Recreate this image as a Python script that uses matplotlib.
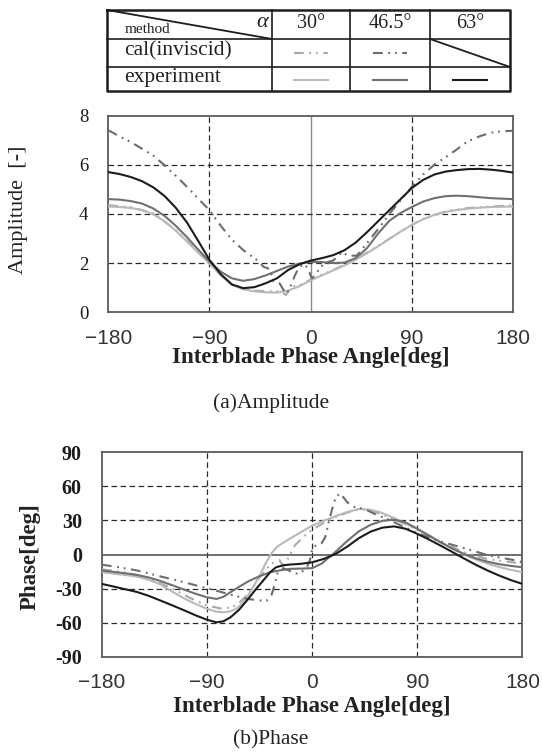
import matplotlib
matplotlib.use("Agg")
import matplotlib.pyplot as plt

plt.rcParams['lines.scale_dashes'] = False
SERIF = 'Liberation Serif'
SANS = 'Liberation Sans'

# ---------------- data ----------------
alphas = ["30°", "46.5°", "63°"]
methods = ["cal(inviscid)", "experiment"]

# Amplitude, experiment (read every 10 deg)
amp_exp_x = [-180, -170, -160, -150, -140, -130, -120, -110, -100, -90, -80, -70, -60, -50, -40, -30,
             -20, -10, 0, 10, 20, 30, 40, 50, 60, 70, 80, 90, 100, 110, 120, 130, 140, 150, 160, 170, 180]
amp_exp_30 = [4.30, 4.28, 4.24, 4.16, 3.98, 3.70, 3.32, 2.88, 2.42, 1.99, 1.50, 1.12, 0.93, 0.85, 0.81,
              0.80, 0.88, 1.06, 1.30, 1.50, 1.70, 1.90, 2.13, 2.40, 2.68, 2.98, 3.28, 3.55, 3.78, 3.96,
              4.08, 4.16, 4.21, 4.25, 4.28, 4.29, 4.30]
amp_exp_465 = [4.60, 4.58, 4.52, 4.42, 4.22, 3.92, 3.52, 3.05, 2.55, 2.06, 1.65, 1.38, 1.28, 1.35, 1.50,
               1.68, 1.86, 1.98, 2.05, 2.04, 2.00, 2.02, 2.20, 2.60, 3.20, 3.72, 4.04, 4.28, 4.50, 4.64,
               4.72, 4.74, 4.72, 4.68, 4.64, 4.62, 4.60]
amp_exp_63 = [5.70, 5.62, 5.50, 5.33, 5.08, 4.73, 4.25, 3.65, 2.90, 2.13, 1.55, 1.13, 0.98, 1.02, 1.18,
              1.38, 1.72, 1.95, 2.10, 2.20, 2.32, 2.52, 2.83, 3.25, 3.70, 4.15, 4.60, 5.05, 5.38, 5.60,
              5.72, 5.78, 5.82, 5.83, 5.80, 5.75, 5.68]

# Amplitude, calculation (inviscid)
amp_cal_30_x = [-180, -160, -140, -120, -100, -90, -80, -70, -60, -50, -35, -26, -22, -19, -15, -10, 0,
                20, 40, 60, 80, 90, 100, 120, 140, 160, 180]
amp_cal_30 = [4.35, 4.28, 4.02, 3.35, 2.45, 2.00, 1.52, 1.12, 0.94, 0.88, 0.85, 0.85, 0.70, 0.95, 1.05,
              1.10, 1.33, 1.72, 2.15, 2.70, 3.28, 3.55, 3.80, 4.10, 4.24, 4.30, 4.35]
amp_cal_465_x = [-180, -170, -160, -150, -140, -130, -120, -110, -100, -90, -80, -70, -60, -50, -46, -42,
                 -36, -34.6, -33, -28, -24, -22, -20, -18, -14, -10, -5, -2, 1, 4, 7, 12, 20, 28, 33,
                 41, 50, 62, 70, 80, 90, 100, 110, 120, 130, 139, 150, 160, 170, 180]
amp_cal_465 = [7.40, 7.15, 6.92, 6.65, 6.37, 5.98, 5.55, 5.10, 4.62, 4.15, 3.52, 2.95, 2.53, 2.20, 2.06,
               1.85, 1.75, 1.50, 1.25, 1.20, 0.90, 0.75, 0.85, 1.05, 1.50, 1.85, 1.95, 1.72, 1.38, 1.50,
               1.72, 2.00, 2.10, 2.45, 2.30, 2.30, 2.80, 3.50, 4.00, 4.55, 5.10, 5.60, 6.00, 6.30, 6.62,
               6.93, 7.15, 7.30, 7.36, 7.38]

# Phase, experiment
ph_exp_30_x = [-180, -170, -160, -150, -140, -130, -120, -110, -100, -90, -82, -76, -70, -65, -60, -55,
               -50, -45, -40, -35, -30, -20, -10, 0, 10, 20, 30, 40, 50, 58, 66, 75, 90, 100, 110, 120,
               130, 140, 150, 160, 170, 180]
ph_exp_30 = [-15.6, -16.8, -18.0, -19.5, -22.2, -26.3, -32.6, -38.5, -43.5, -47.9, -50.3, -50.9, -50.0,
             -47.9, -43.0, -36.0, -27.5, -18.5, -8.0, 1.0, 7.0, 13.5, 19.5, 25.6, 29.8, 33.8, 37.5, 40.2,
             39.5, 37.3, 34.0, 30.0, 22.6, 17.0, 10.8, 5.0, 0.0, -4.3, -8.0, -11.0, -13.5, -15.6]
ph_exp_465_x = [-180, -170, -160, -150, -140, -130, -120, -110, -100, -90, -82, -76, -70, -62, -54, -45,
                -36, -28, -19, -10, 0, 8, 18, 30, 40, 50, 60, 70, 80, 90, 100, 110, 120, 130, 140, 150,
                160, 170, 180]
ph_exp_465 = [-14.1, -15.3, -16.5, -18.0, -20.2, -23.3, -27.0, -30.8, -34.5, -37.7, -39.1, -37.2, -33.2,
              -28.0, -23.2, -19.0, -15.6, -14.0, -12.6, -12.4, -12.0, -8.0, 0.6, 12.0, 20.5, 26.2, 29.7,
              30.7, 28.3, 22.6, 16.6, 10.7, 5.3, 0.5, -3.3, -6.3, -8.5, -10.0, -11.2]
ph_exp_63_x = [-180, -170, -160, -150, -140, -130, -120, -110, -100, -90, -82, -76, -70, -63, -56, -49,
               -42, -36, -31, -25, -19, -10, 0, 10, 20, 30, 40, 50, 60, 70, 80, 90, 100, 110, 120, 130,
               140, 150, 160, 170, 180]
ph_exp_63 = [-25.9, -28.2, -30.6, -33.0, -36.4, -40.5, -44.7, -49.0, -53.5, -57.5, -59.7, -58.8, -55.3,
             -49.0, -40.6, -31.5, -22.9, -15.5, -11.2, -9.5, -8.8, -8.2, -6.8, -3.8, 0.5, 7.0, 14.5, 20.2,
             23.7, 24.8, 22.7, 18.2, 13.2, 7.8, 2.2, -3.5, -9.0, -14.0, -18.5, -22.5, -25.9]

# Phase, calculation (inviscid)
ph_cal_30_x = [-180, -165, -150, -135, -120, -105, -90, -76, -65, -55, -45, -35, -28, -25, -22, -15, -5,
               0, 10, 20, 30, 40, 50, 60, 75, 90, 110, 130, 150, 165, 180]
ph_cal_30 = [-13.0, -15.0, -18.0, -23.0, -30.0, -38.0, -45.0, -48.0, -45.0, -35.0, -20.0, -8.0, -5.0,
             -10.0, -6.0, 8.0, 18.0, 22.0, 28.0, 33.0, 37.0, 40.0, 39.0, 35.0, 29.0, 22.0, 11.0, 2.0,
             -4.0, -6.0, -8.0]
ph_cal_465_x = [-180, -169, -150, -133, -115, -99, -85, -70, -56, -45, -39, -35, -32, -30, -25, -20, -15,
                -10, -5, -2, 0, 4, 8, 11, 14, 17, 20, 23.6, 27, 30, 36, 45, 55, 65, 75, 90, 105, 127,
                152, 175, 180]
ph_cal_465 = [-9.0, -10.6, -14.0, -18.5, -23.0, -27.3, -31.0, -35.3, -39.0, -40.5, -40.6, -36.0, -26.0,
              -17.0, -12.0, -14.0, -17.0, -16.0, -12.0, -5.0, 5.0, 9.0, 10.0, 15.0, 28.0, 40.0, 50.0,
              54.0, 50.0, 46.0, 42.0, 40.0, 35.0, 31.0, 26.0, 19.0, 13.0, 6.5, -1.0, -5.3, -7.0]

amp_yticks = [0, 2, 4, 6, 8]
ph_yticks = [-90, -60, -30, 0, 30, 60, 90]
x_ticks = [-180, -90, 0, 90, 180]
x_ticklabels = ["\u2212180", "\u221290", "0", "90", "180"]

# ---------------- styles ----------------
col = {"30°": "#b9b9b9", "46.5°": "#707070", "63°": "#1c1c1c"}
cal_col = {"30°": "#a9a9a9", "46.5°": "#6c6c6c"}
cal_ls = (0, (7, 4, 1.3, 3.5, 1.3, 4))
LW = 1.5

fig = plt.figure(figsize=(5.42, 7.53), dpi=100)
ax1 = fig.add_axes([0.1998, 0.5853, 0.7467, 0.2613])
ax2 = fig.add_axes([0.1882, 0.1279, 0.7758, 0.2713])


def style_axes(ax, yticks, ylim, zero_vertical, zero_horizontal, ybold, ysize):
    ax.set_xlim(-180, 180)
    ax.set_ylim(*ylim)
    for s in ax.spines.values():
        s.set_color('#5a5a5a')
        s.set_linewidth(1.3)
    for t in x_ticks[1:-1]:
        if t == 0 and zero_vertical:
            ax.axvline(t, color='#8a8a8a', lw=1.0, zorder=1)
        else:
            ax.axvline(t, color='#2a2a2a', lw=0.9, ls=(0, (4, 2.5)), zorder=1)
    for t in yticks[1:-1]:
        if t == 0 and zero_horizontal:
            ax.axhline(t, color='#555555', lw=1.2, zorder=1)
        else:
            ax.axhline(t, color='#2a2a2a', lw=0.9, ls=(0, (4, 2.5)), zorder=1)
    ax.set_xticks(x_ticks)
    ax.set_xticklabels(x_ticklabels, fontfamily=SANS, fontsize=15, color='#333333')
    ax.set_yticks(yticks)
    ax.set_yticklabels([str(v) for v in yticks], fontfamily=SERIF, fontsize=ysize,
                       fontweight='bold' if ybold else 'normal', color='#1a1a1a')
    ax.tick_params(axis='both', length=0)
    ax.tick_params(axis='x', pad=12)
    ax.tick_params(axis='y', pad=14.5)


style_axes(ax1, amp_yticks, (0, 8), True, False, False, 13.5)
style_axes(ax2, ph_yticks, (-90, 90), False, True, True, 14.5)

# amplitude curves
ax1.plot(amp_cal_30_x, amp_cal_30, color=cal_col["30°"], lw=LW, ls=cal_ls, zorder=3)
ax1.plot(amp_exp_x, amp_exp_30, color=col["30°"], lw=LW, zorder=3)
ax1.plot(amp_exp_x, amp_exp_465, color=col["46.5°"], lw=LW, zorder=3)
ax1.plot(amp_cal_465_x, amp_cal_465, color=cal_col["46.5°"], lw=LW, ls=cal_ls, zorder=3)
ax1.plot(amp_exp_x, amp_exp_63, color=col["63°"], lw=LW, zorder=4)

# phase curves
ax2.plot(ph_cal_30_x, ph_cal_30, color=cal_col["30°"], lw=LW, ls=cal_ls, zorder=3)
ax2.plot(ph_exp_30_x, ph_exp_30, color=col["30°"], lw=LW, zorder=3)
ax2.plot(ph_exp_465_x, ph_exp_465, color=col["46.5°"], lw=LW, zorder=3)
ax2.plot(ph_cal_465_x, ph_cal_465, color=cal_col["46.5°"], lw=LW, ls=cal_ls, zorder=3)
ax2.plot(ph_exp_63_x, ph_exp_63, color=col["63°"], lw=LW, zorder=4)

# labels
ax1.set_xlabel("Interblade Phase Angle[deg]", fontfamily=SERIF, fontweight='bold', fontsize=16.5,
               color='#222222')
ax1.xaxis.set_label_coords(0.5, -0.232)
ax1.xaxis.label.set_va('center')
ax1.set_ylabel("Amplitude  [-]", fontfamily=SERIF, fontsize=16, color='#222222')
ax1.yaxis.set_label_coords(-0.221, 0.52)
ax1.yaxis.label.set_va('center')

ax2.set_xlabel("Interblade Phase Angle[deg]", fontfamily=SERIF, fontweight='bold', fontsize=16.5,
               color='#222222')
ax2.xaxis.set_label_coords(0.5, -0.246)
ax2.xaxis.label.set_va('center')
ax2.set_ylabel("Phase[deg]", fontfamily=SERIF, fontweight='bold', fontsize=16.5, color='#222222')
ax2.yaxis.set_label_coords(-0.171, 0.49)
ax2.yaxis.label.set_va('center')

fig.text(0.5, 0.4648, "(a)Amplitude", ha='center', va='center', fontfamily=SERIF, fontsize=15.5,
         color='#222222')
fig.text(0.5, 0.0173, "(b)Phase", ha='center', va='center', fontfamily=SERIF, fontsize=15.5,
         color='#222222')

# ---------------- legend table ----------------
tab = fig.add_axes([0, 0, 1, 1], facecolor='none')
tab.set_xlim(0, 542)
tab.set_ylim(753, 0)
tab.axis('off')

xs = [107, 272, 350, 430, 510]
ys = [10, 39, 67, 91]
TC = '#1e1e1e'
for x in xs[1:-1]:
    tab.plot([x, x], [ys[0], ys[-1]], color=TC, lw=1.2)
for y in ys[1:-1]:
    tab.plot([xs[0], xs[-1]], [y, y], color=TC, lw=1.2)
tab.plot([xs[0], xs[-1], xs[-1], xs[0], xs[0]], [ys[0], ys[0], ys[-1], ys[-1], ys[0]], color=TC, lw=1.8)
# diagonal in header corner and in the empty 63° calc cell
tab.plot([xs[0], xs[1]], [ys[0], ys[1]], color=TC, lw=1.3)
tab.plot([xs[3], xs[4]], [ys[1], ys[2]], color=TC, lw=1.3)

tab.text(125, 29, "method", fontfamily=SERIF, fontsize=11, ha='left', va='center', color='#222222')
tab.text(262, 22, "\u03b1", fontfamily=SERIF, fontstyle='italic', fontsize=16, ha='center', va='center',
         color='#222222')
for i, a in enumerate(alphas):
    tab.text((xs[i + 1] + xs[i + 2]) / 2, 23, a, fontfamily=SERIF, fontsize=14.5, ha='center',
             va='center', color='#222222')
for j, m in enumerate(methods):
    tab.text(124, (ys[j + 1] + ys[j + 2]) / 2 - 2, m, fontfamily=SERIF, fontsize=15.5, ha='left',
             va='center', color='#222222')

# line samples
for i, a in enumerate(alphas):
    cx = (xs[i + 1] + xs[i + 2]) / 2
    ye = (ys[2] + ys[3]) / 2 + 1
    tab.plot([cx - 17, cx + 17], [ye, ye], color=col[a], lw=LW)
    if a in cal_col:
        yc = (ys[1] + ys[2]) / 2
        tab.plot([cx - 17, cx + 17], [yc, yc], color=cal_col[a], lw=LW, ls=cal_ls)

fig.savefig("out.png", dpi=100)
